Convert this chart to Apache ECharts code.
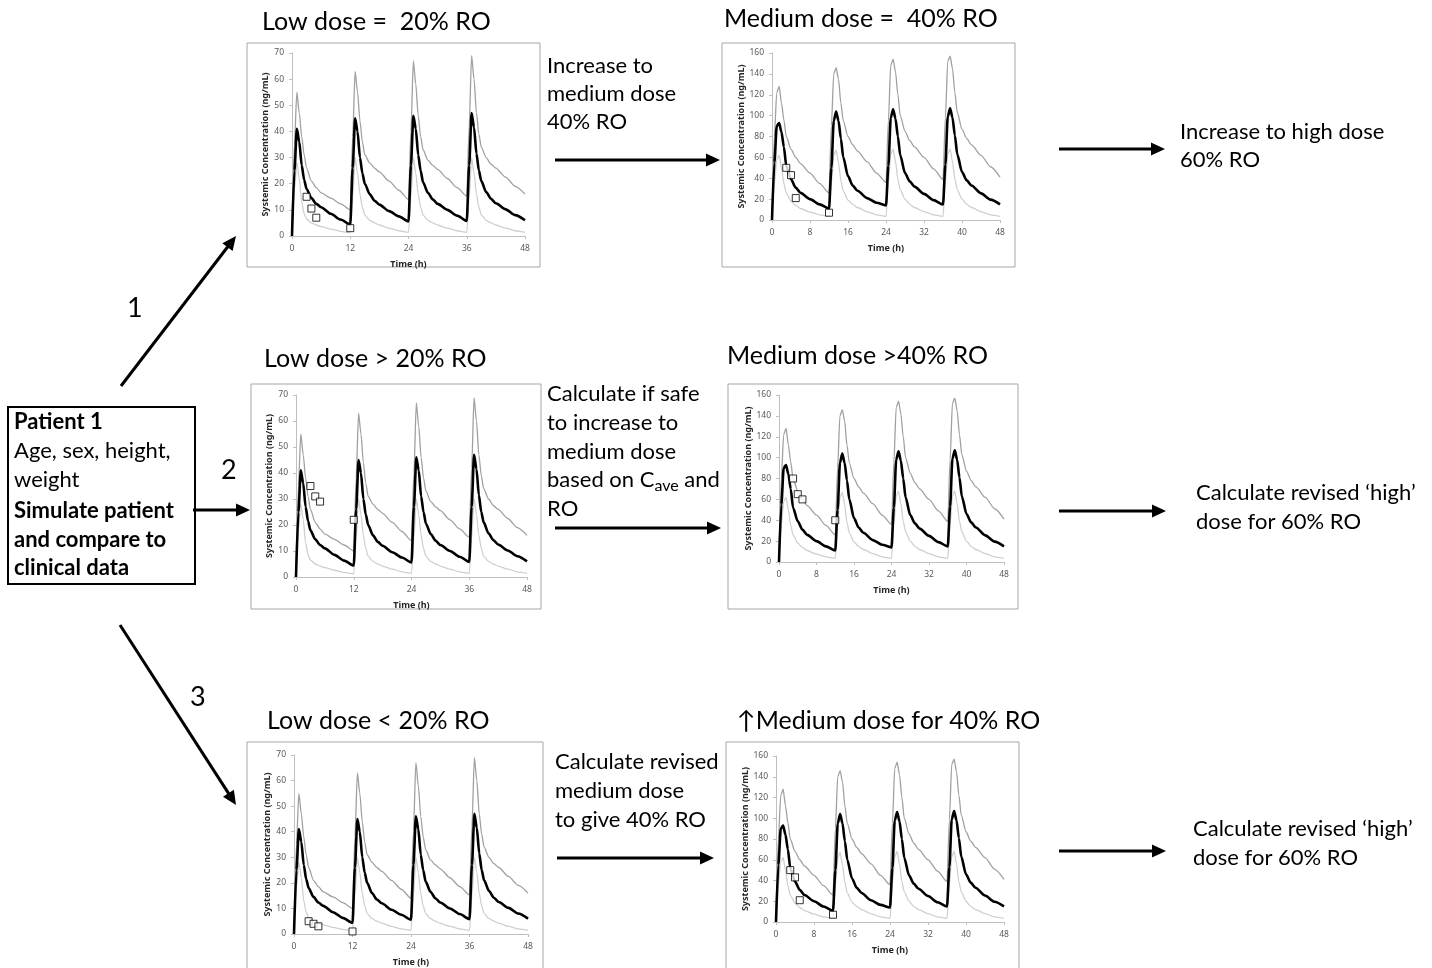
<!DOCTYPE html>
<html>
<head>
<meta charset="utf-8">
<script src="https://cdn.jsdelivr.net/npm/echarts@6/dist/echarts.min.js"></script>
<style>
html, body { margin: 0; padding: 0; background: #fff; }
#main { width: 1432px; height: 968px; }
</style>
</head>
<body>
<div id="main"></div>
<script>
// sample times (h), four 12 h dosing intervals
var timeH = [0,0.5,1,1.5,2,2.5,3,4,5,6,8,10, 12,12.5,13,13.5,14,14.5,15,16,17,18,20,22,
  24,24.5,25,25.5,26,26.5,27,28,29,30,32,34, 36,36.5,37,37.5,38,38.5,39,40,41,42,44,46, 48];

// low dose profiles (ng/mL)
var lowMedian = [0,25,41,36,27,21.5,18,14.5,12.3,11,8.5,6.3, 4.4,26,45,40,30,24,20,16,13.5,12,9.5,7.5,
  5.6,27,46,41,31,25,20.5,16.5,14,12.3,10,7.8, 5.8,27,47,41.5,31.5,25,21,16.8,14.2,12.5,10.2,8, 6];
var lowUpper = [0,35,55,47,38,31,26,21,18.5,16.5,14.5,12.3, 10,38,63,55,44,36,31,28,26,24.5,21,17.5,
  14,40,67,58,46,38,33,29,27,25.5,22,18.5, 15.3,42,69,60,47,39,34,30,27.5,26,22.5,19, 16];
var lowLower = [0,18,28,22,13,8.5,6.5,5,4.2,3.6,2.6,1.8, 1.2,15,30,24,16,11,8,6,5,4.2,3,2,
  1.4,15,30,24,16,11,8,6,5,4.2,3,2, 1.4,15,30,24,16,11,8,6,5,4.2,3,2, 1.4];

// medium dose profiles (ng/mL)
var medMedian = [0,55,90,93,84,70,52,39,31,26,20,15, 11,50,95,104,95,78,60,42,33,28,21,16.5,
  14,52,98,106,97,80,62,45,37,32,25,19, 15,53,99,107,98,81,63,46,38,33,25.5,19.5, 15];
var medUpper = [0,80,122,128,112,96,80,68,60,54,45,35, 26,90,140,146,135,112,95,80,72,66,56,45,
  36,95,148,154,142,120,100,85,76,70,60,49, 39,98,152,157,145,122,103,87,78,72,62,51, 41];
var medLower = [0,35,58,62,50,35,26,18,14,11,7.5,5, 3.5,35,62,67,55,38,28,19,15,12,8,5,
  3.5,36,63,68,56,39,29,20,15,12,8,5, 3.5,36,63,68,56,39,29,20,15,12,8,5, 3.5];

// clinical observations
var obsTime = [3, 4, 5, 12];
var obsLowEqual = [15, 10.5, 7, 3];
var obsMedEqual = [50, 43, 21, 7];
var obsLowAbove = [35, 31, 29, 22];
var obsMedAbove = [80, 65, 60, 40];
var obsLowBelow = [5, 4, 3, 1];
var obsMedRaised = [50, 43, 21, 7];

function pairs(xs, ys) {
  return ys.map(function (v, i) { return [xs[i], v]; });
}

var profiles = {
  low: { med: lowMedian, up: lowUpper, lo: lowLower, max: 70, yStep: 10, xStep: 12 },
  med: { med: medMedian, up: medUpper, lo: medLower, max: 160, yStep: 20, xStep: 8 }
};

var panels = [
  { box: [247, 43, 293, 224], grid: [292, 53, 233, 183], kind: 'low', obs: obsLowEqual },
  { box: [722, 43, 293, 224], grid: [772, 53, 228, 167], kind: 'med', obs: obsMedEqual },
  { box: [251, 384, 290, 225], grid: [296, 395, 231, 182], kind: 'low', obs: obsLowAbove },
  { box: [728, 384, 290, 225], grid: [779, 395, 225, 167], kind: 'med', obs: obsMedAbove },
  { box: [247, 742, 296, 240], grid: [294, 755, 234, 182], kind: 'low', obs: obsLowBelow },
  { box: [726, 742, 293, 240], grid: [776, 756, 228, 166], kind: 'med', obs: obsMedRaised }
];

var grids = [], xAxes = [], yAxes = [], series = [], graphics = [];
var axisGray = '#bfbfbf';
var nameStyle = { fontSize: 9, fontWeight: 'bold', color: '#262626', fontFamily: 'Noto Sans' };
var tickStyle = { fontSize: 8.5, color: '#595959', fontFamily: 'Noto Sans' };

panels.forEach(function (p, i) {
  var prof = profiles[p.kind];
  grids.push({ left: p.grid[0], top: p.grid[1], width: p.grid[2], height: p.grid[3] });
  xAxes.push({
    gridIndex: i, type: 'value', min: 0, max: 48, interval: prof.xStep,
    name: 'Time (h)', nameLocation: 'middle', nameGap: 24, nameTextStyle: nameStyle,
    axisLine: { lineStyle: { color: axisGray } },
    axisTick: { show: true, length: 3, lineStyle: { color: axisGray } },
    axisLabel: Object.assign({ margin: 8 }, tickStyle),
    splitLine: { show: false }
  });
  yAxes.push({
    gridIndex: i, type: 'value', min: 0, max: prof.max, interval: prof.yStep,
    name: 'Systemic Concentration (ng/mL)', nameLocation: 'middle', nameGap: 22, nameRotate: 90,
    nameTextStyle: nameStyle,
    axisLine: { show: true, lineStyle: { color: axisGray } },
    axisTick: { show: true, length: 3, lineStyle: { color: axisGray } },
    axisLabel: Object.assign({ margin: 8 }, tickStyle),
    splitLine: { show: false }
  });
  [['up', '#a0a0a0', 1.3], ['lo', '#cfcfcf', 1.3], ['med', '#000', 2.6]].forEach(function (c) {
    series.push({
      type: 'line', xAxisIndex: i, yAxisIndex: i, data: pairs(timeH, prof[c[0]]),
      showSymbol: false, smooth: 0.25, smoothMonotone: 'x',
      lineStyle: { color: c[1], width: c[2] }, silent: true, animation: false
    });
  });
  series.push({
    type: 'scatter', xAxisIndex: i, yAxisIndex: i, data: pairs(obsTime, p.obs),
    symbol: 'rect', symbolSize: 7,
    itemStyle: { color: '#fff', borderColor: '#000', borderWidth: 1 }, z: 5, animation: false
  });
  graphics.push({
    type: 'rect', shape: { x: p.box[0], y: p.box[1], width: p.box[2], height: p.box[3] },
    style: { fill: 'none', stroke: '#a6a6a6', lineWidth: 1 }, z: -1
  });
});

var FONT = 'Lato';
function txt(x, y, s, size, bold, lh) {
  size = size || 22;
  lh = lh || 28.5;
  return {
    type: 'text', x: x, y: y - lh / 2,
    style: {
      text: s, fill: '#000', lineHeight: lh, verticalAlign: 'top', align: 'left',
      font: (bold ? 'bold ' : '') + size + 'px ' + FONT
    }
  };
}
function arrow(x1, y1, x2, y2) {
  var dx = x2 - x1, dy = y2 - y1, L = Math.sqrt(dx * dx + dy * dy);
  var ux = dx / L, uy = dy / L, hl = 14, hw = 6.5;
  var bx = x2 - ux * hl, by = y2 - uy * hl;
  return [
    { type: 'line', shape: { x1: x1, y1: y1, x2: bx + ux * 2, y2: by + uy * 2 }, style: { stroke: '#000', lineWidth: 3 } },
    { type: 'polygon', shape: { points: [[x2, y2], [bx - uy * hw, by + ux * hw], [bx + uy * hw, by - ux * hw]] }, style: { fill: '#000' } }
  ];
}

graphics.push(
  txt(262, 22, 'Low dose =  20% RO', 25),
  txt(724, 19, 'Medium dose =  40% RO', 25),
  txt(547, 66, 'Increase to\nmedium dose\n40% RO', 22, false, 28),
  txt(1180, 132, 'Increase to high dose\n60% RO', 22, false, 28),
  txt(127, 308, '1', 27),
  txt(264, 359, 'Low dose > 20% RO', 25),
  txt(727, 356, 'Medium dose >40% RO', 25),
  txt(547, 394, 'Calculate if safe\nto increase to\nmedium dose', 22, false, 28.8),
  {
    type: 'text', x: 547, y: 480 - 14.4,
    style: {
      text: '{n|based on C}{s|ave}{n| and}', verticalAlign: 'top', align: 'left',
      rich: {
        n: { font: '22px ' + FONT, fill: '#000', lineHeight: 28.8 },
        s: { font: '16px ' + FONT, fill: '#000', lineHeight: 28.8, padding: [11, 0, 0, 0] }
      }
    }
  },
  txt(547, 509, 'RO', 22, false, 28.8),
  txt(1196, 493, 'Calculate revised \u2018high\u2019\ndose for 60% RO', 22, false, 29),
  txt(14, 422, 'Patient 1', 22, true),
  txt(14, 451, 'Age, sex, height,\nweight', 22, false, 28.5),
  txt(14, 511, 'Simulate patient\nand compare to\nclinical data', 22, true, 28.5),
  txt(221, 470, '2', 27),
  txt(190, 697, '3', 27),
  txt(267, 721, 'Low dose < 20% RO', 25),
  txt(737, 721, '\u2191Medium dose for 40% RO', 25),
  txt(555, 762, 'Calculate revised\nmedium dose\nto give 40% RO', 22, false, 29),
  txt(1193, 829, 'Calculate revised \u2018high\u2019\ndose for 60% RO', 22, false, 29),
  {
    type: 'rect', shape: { x: 8, y: 407, width: 187, height: 177 },
    style: { fill: 'none', stroke: '#000', lineWidth: 2 }
  }
);
[[555, 160, 720, 160], [1059, 149, 1165, 149], [121, 386, 236, 236],
 [193, 510, 250, 510], [555, 528, 721, 528], [1059, 511, 1166, 511],
 [120, 625, 236, 805], [557, 858, 714, 858], [1059, 851, 1166, 851]].forEach(function (a) {
  graphics = graphics.concat(arrow(a[0], a[1], a[2], a[3]));
});

var myChart = echarts.init(document.getElementById('main'));
myChart.setOption({
  backgroundColor: '#fff',
  animation: false,
  grid: grids,
  xAxis: xAxes,
  yAxis: yAxes,
  series: series,
  graphic: graphics
});
</script>
</body>
</html>
